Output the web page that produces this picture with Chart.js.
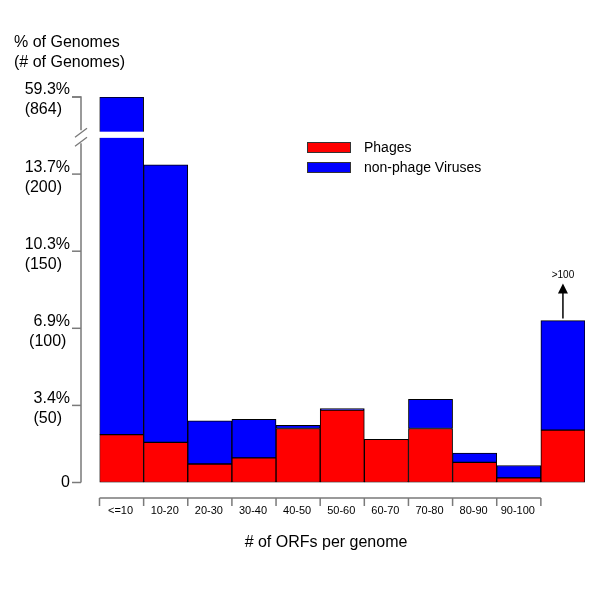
<!DOCTYPE html>
<html>
<head>
<meta charset="utf-8">
<script src="https://cdn.jsdelivr.net/npm/chart.js@4.4.1/dist/chart.umd.min.js"></script>
<style>
  html, body { margin: 0; padding: 0; background: #fff; }
  #wrap { width: 600px; height: 600px; position: relative; }
</style>
</head>
<body>
<div id="wrap"><canvas id="c" width="600" height="600"></canvas></div>
<script>
// ---------- data ----------
const categories = ["<=10", "10-20", "20-30", "30-40", "40-50", "50-60", "60-70", "70-80", "80-90", "90-100", ">100"];
const phages = [31, 26, 12, 16, 35, 47, 28, 35, 13, 3, 34];
const nonPhageViruses = [833, 180, 28, 25, 2, 1, 0, 19, 6, 8, 71];
const yTickCounts = [0, 50, 100, 150, 200, 864];
const yTickPercents = ["0", "3.4%", "6.9%", "10.3%", "13.7%", "59.3%"];
const xTickLabels = ["<=10", "10-20", "20-30", "30-40", "40-50", "50-60", "60-70", "70-80", "80-90", "90-100", ""];
const seriesNames = ["Phages", "non-phage Viruses"];
const overflowLabel = ">100";

// ---------- broken axis mapping ----------
const AXIS_TOP = 250;      // display position of the top (broken) tick
const BREAK_LIMIT = 230;   // counts above this are drawn past the break
function shown(v) { return v > BREAK_LIMIT ? AXIS_TOP : v; }
const shownVirus = nonPhageViruses.map((v, i) => shown(phages[i] + v) - phages[i]);

const FONT = "'Liberation Sans', Arial, Helvetica, sans-serif";
const AXIS_GREY = "#7a7a7a";

const overlay = {
  id: 'overlay',
  afterDatasetsDraw(chart) {
    const ctx = chart.ctx;
    const x = chart.scales.x, y = chart.scales.y;
    const meta = chart.getDatasetMeta(1);
    ctx.save();

    // break gap in the first bar
    const b0 = meta.data[0];
    const half0 = b0.width / 2;
    ctx.fillStyle = '#fff';
    ctx.fillRect(b0.x - half0 - 1, y.getPixelForValue(227.5), b0.width + 2, y.getPixelForValue(223.5) - y.getPixelForValue(227.5));

    // y axis line (broken)
    const ax = 81;
    const yTop = y.getPixelForValue(AXIS_TOP);
    const yBot = y.getPixelForValue(0);
    const brk = y.getPixelForValue(224.5);
    ctx.strokeStyle = AXIS_GREY;
    ctx.lineWidth = 1.5;
    ctx.beginPath();
    ctx.moveTo(ax - 9, yTop); ctx.lineTo(ax, yTop); ctx.lineTo(ax, brk - 6);
    ctx.moveTo(ax, brk + 7); ctx.lineTo(ax, yBot);
    ctx.stroke();
    ctx.lineWidth = 1.3;
    ctx.beginPath();
    ctx.moveTo(ax - 6, brk + 1); ctx.lineTo(ax + 6, brk - 8);
    ctx.moveTo(ax - 6, brk + 10); ctx.lineTo(ax + 6, brk + 1);
    ctx.stroke();

    // y ticks and labels
    ctx.font = '16px ' + FONT;
    ctx.textBaseline = 'middle';
    ctx.fillStyle = '#000';
    yTickCounts.forEach((cnt, i) => {
      const py = y.getPixelForValue(shown(cnt));
      ctx.strokeStyle = AXIS_GREY;
      ctx.lineWidth = 1.5;
      ctx.beginPath(); ctx.moveTo(ax - 9, py); ctx.lineTo(ax, py); ctx.stroke();
      if (cnt === 0) {
        ctx.textAlign = 'right';
        ctx.fillText(yTickPercents[i], 70, py);
      } else {
        const l1 = yTickPercents[i];
        const l2 = '(' + cnt + ')';
        const w1 = ctx.measureText(l1).width;
        ctx.textAlign = 'right';
        ctx.fillText(l1, 70, py - 7);
        ctx.textAlign = 'center';
        ctx.fillText(l2, 70 - w1 / 2 - 4, py + 13);
      }
    });

    // y title
    ctx.textAlign = 'left';
    ctx.fillText('% of Genomes', 14, 43);
    ctx.fillText('(# of Genomes)', 14, 63);

    // x bracket axis
    const labelled = xTickLabels.filter(s => s !== '').length;
    const bl = meta.data[0].x - meta.data[0].width / 2;
    const br = meta.data[labelled - 1].x + meta.data[labelled - 1].width / 2;
    const by = 498;
    ctx.strokeStyle = AXIS_GREY;
    ctx.lineWidth = 1.5;
    ctx.beginPath();
    ctx.moveTo(bl, by); ctx.lineTo(br, by);
    for (let i = 0; i <= labelled; i++) {
      const bx = i < labelled ? meta.data[i].x - meta.data[i].width / 2 : br;
      ctx.moveTo(bx, by); ctx.lineTo(bx, by + 8);
    }
    ctx.stroke();
    ctx.font = '11px ' + FONT;
    ctx.textAlign = 'center';
    ctx.fillStyle = '#000';
    xTickLabels.forEach((lab, i) => {
      if (lab) ctx.fillText(lab, meta.data[i].x - 1, 511);
    });

    // x title
    ctx.font = '16px ' + FONT;
    ctx.fillText('# of ORFs per genome', 326, 543);

    // legend
    const cols = ['#ff0000', '#0000ff'];
    ctx.font = '14px ' + FONT;
    ctx.textAlign = 'left';
    seriesNames.forEach((n, i) => {
      const ly = 142 + i * 20;
      ctx.fillStyle = cols[i];
      ctx.fillRect(307, ly, 44, 11);
      ctx.strokeStyle = '#333';
      ctx.lineWidth = 1;
      ctx.strokeRect(307.5, ly + 0.5, 43, 10);
      ctx.fillStyle = '#000';
      ctx.fillText(n, 364, ly + 6);
    });

    // overflow arrow over last bar
    const last = meta.data[categories.length - 1];
    const topPx = last.y;
    ctx.strokeStyle = '#000';
    ctx.lineWidth = 1.5;
    ctx.beginPath(); ctx.moveTo(last.x, topPx - 2); ctx.lineTo(last.x, topPx - 28); ctx.stroke();
    ctx.fillStyle = '#000';
    ctx.beginPath();
    ctx.moveTo(last.x, topPx - 37);
    ctx.lineTo(last.x - 5, topPx - 27);
    ctx.lineTo(last.x + 5, topPx - 27);
    ctx.closePath(); ctx.fill();
    ctx.font = '10px ' + FONT;
    ctx.textAlign = 'center';
    ctx.fillText(overflowLabel, last.x, topPx - 45);

    ctx.restore();
  }
};

new Chart(document.getElementById('c'), {
  type: 'bar',
  data: {
    labels: categories,
    datasets: [
      { label: seriesNames[0], data: phages, backgroundColor: '#ff0000', borderColor: '#000', borderWidth: 1, borderSkipped: false },
      { label: seriesNames[1], data: shownVirus, backgroundColor: '#0000ff', borderColor: '#000', borderWidth: 1, borderSkipped: false }
    ]
  },
  options: {
    responsive: false,
    animation: false,
    devicePixelRatio: 1,
    layout: { padding: { left: 99.5, right: 15, top: 97, bottom: 117.5 } },
    datasets: { bar: { categoryPercentage: 1, barPercentage: 1 } },
    scales: {
      x: { stacked: true, display: false },
      y: { stacked: true, display: false, min: 0, max: AXIS_TOP }
    },
    plugins: { legend: { display: false }, tooltip: { enabled: false } }
  },
  plugins: [overlay]
});
</script>
</body>
</html>
